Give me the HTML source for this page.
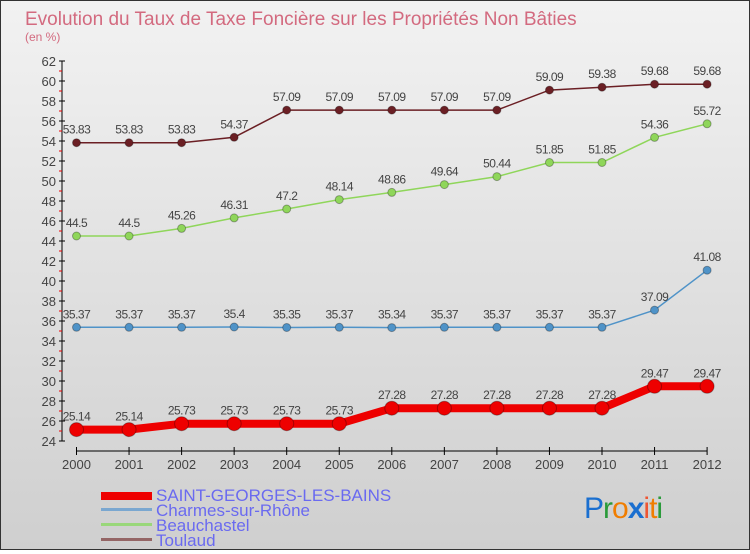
<!DOCTYPE html>
<html><head><meta charset="utf-8"><style>
body{margin:0;width:750px;height:550px;overflow:hidden;font-family:"Liberation Sans",sans-serif}
#wrap{position:relative;width:748px;height:548px;border:1px solid #333;background:linear-gradient(#f2f2f2,#cfcfcf)}
</style></head><body>
<div id="wrap">
<svg id="chart" width="748" height="548">
<text x="24" y="24" font-size="19" fill="#d36a7f">Evolution du Taux de Taxe Foncière sur les Propriétés Non Bâties</text>
<text x="24" y="40" font-size="12" fill="#d36a7f">(en %)</text>
<g id="axes"></g><g id="series"></g>
<g>
<rect x="100" y="491" width="51" height="8" fill="#e00"/>
<text x="155" y="500" font-size="17" fill="#6a6af0">SAINT-GEORGES-LES-BAINS</text>
<rect x="100" y="507" width="51" height="3" fill="#7aa7d0"/>
<text x="155" y="515" font-size="17" fill="#6a6af0">Charmes-sur-Rhône</text>
<rect x="100" y="522" width="51" height="3" fill="#99d77a"/>
<text x="155" y="530" font-size="17" fill="#6a6af0">Beauchastel</text>
<rect x="100" y="537" width="51" height="3" fill="#946565"/>
<text x="155" y="545" font-size="17" fill="#6a6af0">Toulaud</text>
</g>
<text x="583" y="517" font-size="30" letter-spacing="-1"><tspan fill="#1a6fd0">P</tspan><tspan fill="#2a9a3a">r</tspan><tspan fill="#f07d00">o</tspan><tspan fill="#1a6fd0" font-weight="bold">x</tspan><tspan fill="#e53">i</tspan><tspan fill="#f07d00">t</tspan><tspan fill="#2a9a3a">i</tspan></text>
</svg></div>
<script>
const years=[2000,2001,2002,2003,2004,2005,2006,2007,2008,2009,2010,2011,2012];
const saint=[25.14,25.14,25.73,25.73,25.73,25.73,27.28,27.28,27.28,27.28,27.28,29.47,29.47];
const charmes=[35.37,35.37,35.37,35.4,35.35,35.37,35.34,35.37,35.37,35.37,35.37,37.09,41.08];
const beau=[44.5,44.5,45.26,46.31,47.2,48.14,48.86,49.64,50.44,51.85,51.85,54.36,55.72];
const toulaud=[53.83,53.83,53.83,54.37,57.09,57.09,57.09,57.09,57.09,59.09,59.38,59.68,59.68];
const yTicks=[24,26,28,30,32,34,36,38,40,42,44,46,48,50,52,54,56,58,60,62];
const NS="http://www.w3.org/2000/svg";
const X=i=>75.5+i*52.55, Y=v=>440-(v-24)*10;
function mk(t,a,p){const e=document.createElementNS(NS,t);for(const k in a)e.setAttribute(k,a[k]);p.appendChild(e);return e;}
const ax=document.getElementById('axes');
let l=mk('line',{x1:61,y1:Y(62),x2:61,y2:Y(24),stroke:'#000'},ax);


yTicks.forEach(v=>{
 mk('line',{x1:58,x2:64,y1:Y(v),y2:Y(v),stroke:'#000'},ax);
 if(v<62) mk('line',{x1:58,x2:61,y1:Y(v+1),y2:Y(v+1),stroke:'#e00'},ax);
 const t=mk('text',{x:55,y:Y(v)+5,'text-anchor':'end','font-size':13,fill:'#444'},ax);t.textContent=v;
 
 
});
l=mk('line',{x1:X(0),y1:450,x2:X(12),y2:450,stroke:'#000'},ax);


years.forEach((y,i)=>{
 mk('line',{x1:X(i),x2:X(i),y1:446,y2:454,stroke:'#000'},ax);
 const t=mk('text',{x:X(i),y:468,'text-anchor':'middle','font-size':13,fill:'#444'},ax);t.textContent=y;
 
 
});
const sg=document.getElementById('series');
function draw(vals,color,w,r,name){
 const g=mk('g',{},sg);
 
 
 mk('polyline',{points:vals.map((v,i)=>X(i)+','+Y(v)).join(' '),fill:'none',stroke:color,'stroke-width':w},g);
 vals.forEach((v,i)=>{
  const c=mk('circle',{cx:X(i),cy:Y(v),r:r,fill:color,stroke:'rgba(0,0,0,0.3)'},g);
  
  
  const t=mk('text',{x:X(i),y:Y(v)-9,'text-anchor':'middle','font-size':12,fill:'#444','letter-spacing':'-0.5'},g);
  t.textContent=v;
  
  
 });
}
draw(toulaud,'#6b1f24',1.5,4,'series-toulaud');
draw(beau,'#8fd65a',1.5,4,'series-beauchastel');
draw(charmes,'#4f93c8',1.5,4,'series-charmes');
draw(saint,'#ee0000',8,7,'series-saint-georges');
</script></body></html>
